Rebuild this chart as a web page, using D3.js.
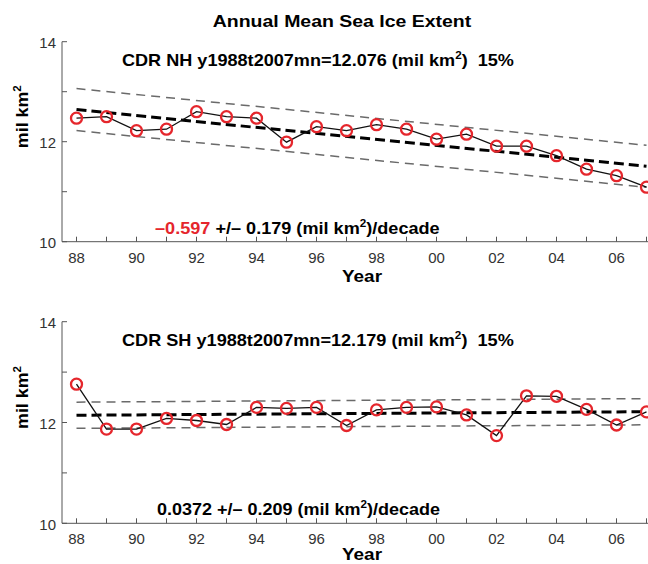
<!DOCTYPE html>
<html>
<head>
<meta charset="utf-8">
<script src="https://cdn.jsdelivr.net/npm/d3@7"></script>
<style>
  body { margin: 0; background: #fff; }
  text { font-family: "Liberation Sans", Arial, sans-serif; white-space: pre; }
</style>
</head>
<body>
<div id="chart"></div>
<script>
// dati
var years = [1988,1989,1990,1991,1992,1993,1994,1995,1996,1997,1998,1999,2000,2001,2002,2003,2004,2005,2006,2007];
var nhExtent = [12.47,12.50,12.22,12.25,12.60,12.50,12.47,11.99,12.30,12.22,12.34,12.25,12.05,12.15,11.91,11.91,11.72,11.45,11.32,11.09];
var shExtent = [12.76,11.87,11.87,12.08,12.04,11.96,12.30,12.28,12.30,11.94,12.25,12.30,12.31,12.15,11.74,12.53,12.52,12.26,11.95,12.21];
var means = [12.076, 12.179];
var trends = [-0.597, 0.0372];      // per decade
var trendErr = [0.179, 0.209];
var bandOffset = [0.42, 0.26];       // linee tratteggiate grigie
var hemis = ["NH", "SH"];
var yTicks = [10, 11, 12, 13, 14];
var xLabelYears = [1988,1990,1992,1994,1996,1998,2000,2002,2004,2006];

var width = 648, height = 564;

var svg = d3.select("#chart").append("svg")
            .attr("width", width)
            .attr("height", height);

// allarga il testo in orizzontale fino alla larghezza voluta
function fitText(sel, x0, y0, target) {
    var w = sel.node().getBBox().width;
    var k = target / w;
    sel.attr("x", 0).attr("y", 0)
       .attr("transform", "translate(" + x0 + "," + y0 + ") scale(" + k + ",1)");
}

var title = svg.append("text")
               .attr("text-anchor", "middle")
               .style("font-size", "17px").style("font-weight", "bold")
               .text("Annual Mean Sea Ice Extent");
fitText(title, 342, 27, 259);

var x = d3.scaleLinear().domain([1988, 2007]).range([76.5, 646.5]);

var panels = [
    {top: 41.7, bottom: 241.7, data: nhExtent},
    {top: 321.7, bottom: 523.3, data: shExtent}
];

panels.forEach(function(p, i) {
    var y = d3.scaleLinear().domain([10, 14]).range([p.bottom, p.top]);
    var g = svg.append("g");

    // assi
    g.append("line")
     .attr("x1", 62).attr("x2", 62)
     .attr("y1", y(14)).attr("y2", y(10))
     .attr("stroke", "#555").attr("stroke-width", 1);
    g.append("line")
     .attr("x1", 62).attr("x2", width)
     .attr("y1", y(10)).attr("y2", y(10))
     .attr("stroke", "#555").attr("stroke-width", 1);

    yTicks.forEach(function(t) {
        g.append("line")
         .attr("x1", 62).attr("x2", 67)
         .attr("y1", y(t)).attr("y2", y(t))
         .attr("stroke", "#555");
        if (t % 2 == 0) {
            g.append("text")
             .attr("x", 56).attr("y", y(t) + 6.5)
             .attr("text-anchor", "end")
             .style("font-size", "15px").attr("fill", "#333")
             .text(t);
        }
    });

    years.forEach(function(yr) {
        g.append("line")
         .attr("x1", x(yr)).attr("x2", x(yr))
         .attr("y1", y(10)).attr("y2", y(10) - 5)
         .attr("stroke", "#555");
    });
    xLabelYears.forEach(function(yr) {
        g.append("text")
         .attr("x", x(yr)).attr("y", y(10) + 21)
         .attr("text-anchor", "middle")
         .style("font-size", "15px").attr("fill", "#333")
         .text(String(yr).slice(2));
    });

    // etichette assi
    var ylab = g.append("text")
                .attr("text-anchor", "middle")
                .style("font-size", "17px").style("font-weight", "bold");
    ylab.append("tspan").text("mil km");
    ylab.append("tspan").attr("dy", -7).style("font-size", "11px").text("2");
    var yw = ylab.node().getBBox().width;
    ylab.attr("transform", "translate(28," + (y(12) - 25) + ") rotate(-90) scale(" + (63 / yw) + ",1)");

    var yr = g.append("text")
              .attr("text-anchor", "middle")
              .style("font-size", "16px").style("font-weight", "bold")
              .text("Year");
    fitText(yr, 362, Math.min(y(10) + 40.5, height - 4), 40);

    // titolo del pannello
    var sub = g.append("text")
               .style("font-size", "17px").style("font-weight", "bold");
    sub.append("tspan").text("CDR " + hemis[i] + " y1988t2007mn=" + means[i].toFixed(3) + " (mil km");
    sub.append("tspan").attr("dy", -7).style("font-size", "11px").text("2");
    sub.append("tspan").attr("dy", 7).text(")  15%");
    fitText(sub, 122, y(14) + 24, 392);

    // trend e bande
    var mid = (1988 + 2007) / 2;
    var trendAt = function(yr, off) {
        return means[i] + trends[i] / 10 * (yr - mid) + off;
    };
    [-bandOffset[i], bandOffset[i]].forEach(function(off) {
        g.append("line")
         .attr("x1", x(1988)).attr("x2", x(2007))
         .attr("y1", y(trendAt(1988, off))).attr("y2", y(trendAt(2007, off)))
         .attr("stroke", "#6a6a6a").attr("stroke-width", 1.5)
         .attr("stroke-dasharray", "9,6");
    });
    g.append("line")
     .attr("x1", x(1988)).attr("x2", x(2007))
     .attr("y1", y(trendAt(1988, 0))).attr("y2", y(trendAt(2007, 0)))
     .attr("stroke", "#000").attr("stroke-width", 3)
     .attr("stroke-dasharray", "10,5");

    // serie
    var line = d3.line().x((d, k) => x(years[k])).y(d => y(d));
    g.append("path")
     .datum(p.data)
     .attr("d", line)
     .attr("fill", "none").attr("stroke", "#111").attr("stroke-width", 1.3);

    g.selectAll("circle")
     .data(p.data)
     .enter().append("circle")
     .attr("cx", (d, k) => x(years[k]))
     .attr("cy", d => y(d))
     .attr("r", 5.5)
     .attr("fill", "none")
     .attr("stroke", "#e5262c").attr("stroke-width", 2.3);

    // testo del trend
    var tt = g.append("text")
              .style("font-size", "17px").style("font-weight", "bold");
    var tr = trends[i] < 0 ? "\u2013" + Math.abs(trends[i]).toFixed(3) : String(trends[i]);
    tt.append("tspan").attr("fill", i == 0 ? "#e5262c" : "#000").text(tr);
    tt.append("tspan").text(" +/\u2013 " + trendErr[i].toFixed(3) + " (mil km");
    tt.append("tspan").attr("dy", -7).style("font-size", "11px").text("2");
    tt.append("tspan").attr("dy", 7).text(")/decade");
    fitText(tt, i == 0 ? 155 : 157, y(10) - 8, i == 0 ? 285 : 283);
});
</script>
</body>
</html>
